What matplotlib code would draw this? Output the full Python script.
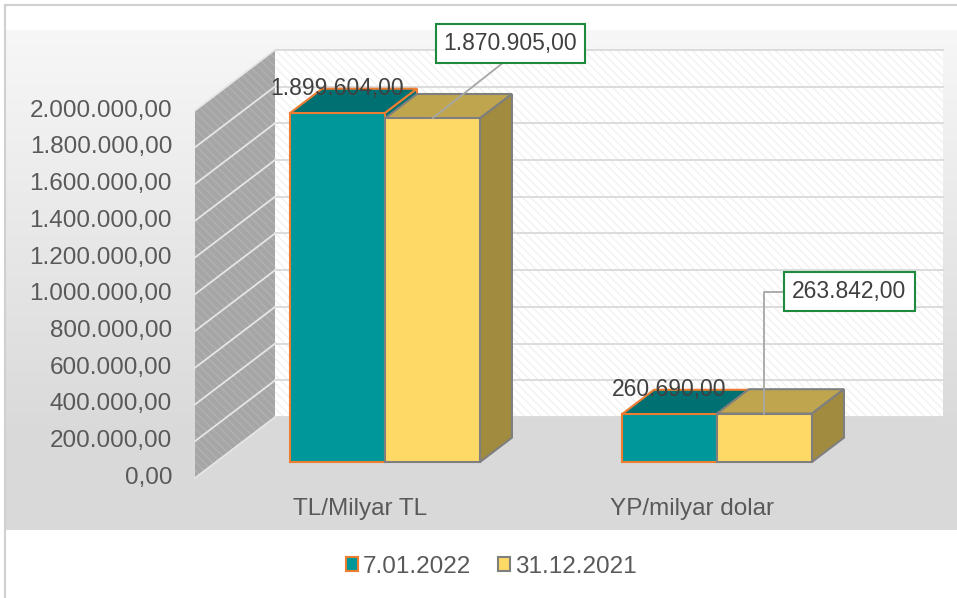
import numpy as np
import matplotlib.pyplot as plt
from matplotlib.patches import Polygon, Patch

plt.rcParams['font.family'] = ['Liberation Sans', 'DejaVu Sans']
plt.rcParams['hatch.linewidth'] = 1.0

# data
categories = ['TL/Milyar TL', 'YP/milyar dolar']
series = ['7.01.2022', '31.12.2021']
vals_2022 = [1899604.00, 260690.00]
vals_2021 = [1870905.00, 263842.00]
yticks = np.arange(0, 2000001, 200000)

def fmt(v):  # 1.234.567,00
    s = '{:,.2f}'.format(v)
    return s.replace(',', 'X').replace('.', ',').replace('X', '.')

W, H = 957, 598
FS = 17.5      # axis / legend text
FS_LAB = 16.5  # data labels

fig = plt.figure(figsize=(W/100, H/100), dpi=100)

# background (gradient + border)
bg = fig.add_axes([0, 0, 1, 1])
bg.set_xlim(0, W); bg.set_ylim(H, 0); bg.axis('off')
yy = np.linspace(30, 530, 500)
t = np.clip((yy-30)/(440-30), 0, 1)
c = (247 - 30*t)/255
grad = np.repeat(c[:, None, None], 3, axis=2)
bg.imshow(grad, extent=(5, W, 530, 30), aspect='auto', zorder=0)
bg.plot([5, 5], [5, H], color='#d0d0d0', lw=1.5)
bg.plot([5, W], [5, 5], color='#d0d0d0', lw=1.5)

# main axes = front plane of the bars
ax = fig.add_axes([216/W, 1-462/H, 670/W, 367.4/H])
xl, xr = -0.509, 1.503
ax.set_xlim(xl, 1.509); ax.set_ylim(0, 2e6)
ax.patch.set_visible(False)
for s in ax.spines.values():
    s.set_visible(False)
ax.set_xticks([]); ax.set_yticks([])

PX_X = 670/(1.509-xl)
PX_Y = 367.4/2e6

def off(d):  # depth offset (pixels along x) -> data units
    return d/PX_X, 0.76*d/PX_Y

fx, fy = off(-21)   # front plane
bx, by = off(59)    # back wall
top = 2e6

# floor
ax.add_patch(Polygon([(xl+fx, fy), (xr+fx, fy), (xr+bx, by), (xl+bx, by)],
                     fc='#d9d9d9', ec='none', clip_on=False, zorder=1))
# back wall
wall = [(xl+bx, by), (xr+bx, by), (xr+bx, top+by), (xl+bx, top+by)]
ax.add_patch(Polygon(wall, fc='white', ec='none', clip_on=False, zorder=1))
ax.add_patch(Polygon(wall, fill=False, hatch='\\\\\\\\', ec='#f1f1f1', lw=0,
                     clip_on=False, zorder=1.1))
# side wall
side = [(xl+fx, fy), (xl+fx, top+fy), (xl+bx, top+by), (xl+bx, by)]
ax.add_patch(Polygon(side, fc='#a6a6a6', ec='none', clip_on=False, zorder=1))
ax.add_patch(Polygon(side, fill=False, hatch='\\\\\\\\', ec='#b1b1b1', lw=0,
                     clip_on=False, zorder=1.1))
# gridlines
for v in yticks:
    ax.plot([xl+bx, xr+bx], [v+by, v+by], color='#d9d9d9', lw=1.3,
            clip_on=False, zorder=1.2)
    ax.plot([xl+fx, xl+bx], [v+fy, v+by], color='#e6e6e6', lw=1.3,
            clip_on=False, zorder=1.2)
    ax.text(xl+fx-23/PX_X, v+fy, fmt(v), ha='right', va='center',
            fontsize=FS, color='#595959')

for i, cat in enumerate(categories):
    ax.text(i+fx-4/PX_X, -47/PX_Y, cat, ha='center', va='center',
            fontsize=FS, color='#595959', clip_on=False)

# bars with 3D top and side
w = 0.286
dx, dy = off(32)
styles = [
    (vals_2022, '#00979a', '#ed7d31', '#007072', '#007072'),
    (vals_2021, '#ffd966', '#7f7f7f', '#bfa64e', '#a08b3e'),
]
for j, (vals, fc, ec, tc, sc) in enumerate(styles):
    x = np.arange(len(categories)) - w + j*w
    z = 5 + j
    ax.bar(x, vals, width=w, align='edge', color=fc, edgecolor=ec, lw=1.5,
           zorder=z+0.5, clip_on=False)
    for x0, v in zip(x, vals):
        ax.add_patch(Polygon([(x0, v), (x0+w, v), (x0+w+dx, v+dy), (x0+dx, v+dy)],
                             fc=tc, ec=ec, lw=1.5, zorder=z, clip_on=False))
        ax.add_patch(Polygon([(x0+w, 0), (x0+w, v), (x0+w+dx, v+dy), (x0+w+dx, dy)],
                             fc=sc, ec=ec, lw=1.5, zorder=z, clip_on=False))

# data labels
for i, v in enumerate(vals_2022):
    ax.annotate(fmt(v), xy=(i-w/2, v), xytext=(0, 25), textcoords='offset pixels',
                ha='center', va='center', fontsize=FS_LAB, color='#404040', zorder=10)

box = dict(boxstyle='square,pad=0.35', fc='white', ec='#1e8a3e', lw=1.5)
ax.annotate(fmt(vals_2021[0]), xy=(w/2, vals_2021[0]), xytext=(78, 75),
            textcoords='offset pixels', ha='center', va='center', fontsize=FS_LAB,
            color='#404040', bbox=box, zorder=10,
            arrowprops=dict(arrowstyle='-', color='#a6a6a6', lw=1.3,
                            relpos=(0.52, 0), shrinkA=0, shrinkB=0))
ax.annotate(fmt(vals_2021[1]), xy=(1+w/2, vals_2021[1]), xytext=(85, 122),
            textcoords='offset pixels', ha='center', va='center', fontsize=FS_LAB,
            color='#404040', bbox=box, zorder=10,
            arrowprops=dict(arrowstyle='-', color='#a6a6a6', lw=1.3,
                            relpos=(0, 0.5), shrinkA=0, shrinkB=0,
                            connectionstyle='angle,angleA=0,angleB=90,rad=0'))

# legend
handles = [Patch(fc='#00979a', ec='#ed7d31', lw=1.5),
           Patch(fc='#ffd966', ec='#7f7f7f', lw=1.5)]
fig.legend(handles, series, loc='center', bbox_to_anchor=(0.513, 1-567/H),
           ncol=2, frameon=False, fontsize=FS, labelcolor='#595959',
           handlelength=0.5, handleheight=0.5, handletextpad=0.2,
           columnspacing=1.1)

fig.savefig('out.png', dpi=100)
